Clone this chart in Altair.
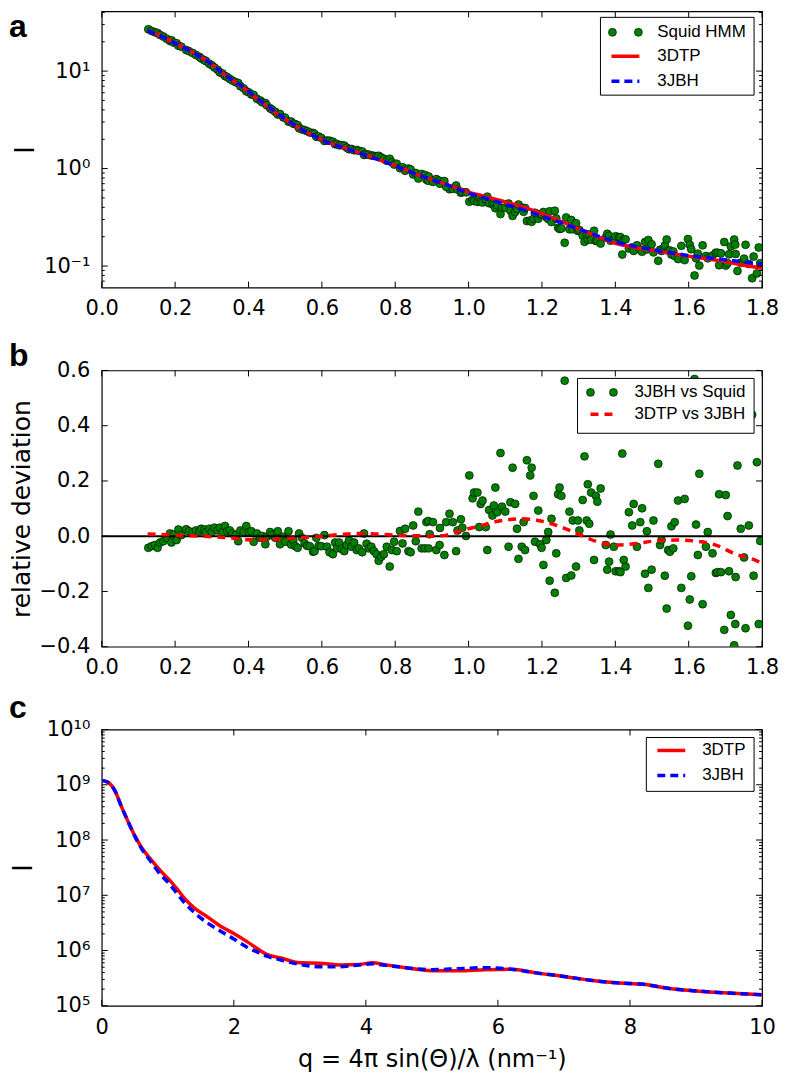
import altair as alt
import pandas as pd

W, H = 662, 277

# ---------------- panel a / b : observed data (q, relative deviation, intensity) ----------------
obs_q = [
    0.127, 0.136, 0.145, 0.152, 0.159, 0.168, 0.177, 0.186, 0.190, 0.196,
    0.204, 0.209, 0.217, 0.230, 0.238, 0.248, 0.257, 0.266, 0.271, 0.280,
    0.284, 0.293, 0.300, 0.307, 0.316, 0.322, 0.329, 0.336, 0.342, 0.349,
    0.356, 0.365, 0.372, 0.378, 0.387, 0.394, 0.401, 0.408, 0.414, 0.423,
    0.432, 0.437, 0.446, 0.450, 0.459, 0.464, 0.473, 0.480, 0.486, 0.495,
    0.500, 0.509, 0.516, 0.522, 0.528, 0.534, 0.538, 0.546, 0.553, 0.560,
    0.567, 0.576, 0.580, 0.585, 0.591, 0.598, 0.607, 0.614, 0.621, 0.630,
    0.636, 0.641, 0.647, 0.654, 0.661, 0.668, 0.674, 0.681, 0.688, 0.695,
    0.701, 0.710, 0.715, 0.722, 0.728, 0.735, 0.742, 0.749, 0.755, 0.762,
    0.769, 0.777, 0.785, 0.791, 0.797, 0.804, 0.813, 0.820, 0.827, 0.836,
    0.842, 0.849, 0.856, 0.863, 0.872, 0.881, 0.885, 0.894, 0.890, 0.903,
    0.891, 0.912, 0.921, 0.922, 0.934, 0.948, 0.939, 0.957, 0.966, 0.970,
    0.979, 0.983, 0.993, 1.002, 1.011, 1.015, 1.024, 1.029, 1.033, 1.038,
    1.047, 1.051, 1.056, 1.065, 1.069, 1.073, 1.078, 1.087, 1.091, 1.100,
    1.109, 1.114, 1.120, 1.127, 1.132, 1.136, 1.145, 1.150, 1.154, 1.159,
    1.168, 1.172, 1.177, 1.181, 1.190, 1.195, 1.199, 1.204, 1.212, 1.217,
    1.221, 1.226, 1.235, 1.239, 1.244, 1.248, 1.253, 1.262, 1.266, 1.275,
    1.280, 1.284, 1.293, 1.298, 1.302, 1.311, 1.316, 1.322, 1.325, 1.329,
    1.334, 1.342, 1.347, 1.351, 1.360, 1.374, 1.378, 1.383, 1.387, 1.396,
    1.401, 1.410, 1.414, 1.419, 1.423, 1.428, 1.437, 1.446, 1.450, 1.459,
    1.468, 1.473, 1.481, 1.486, 1.490, 1.499, 1.504, 1.517, 1.522, 1.526,
    1.535, 1.540, 1.544, 1.549, 1.553, 1.558, 1.562, 1.571, 1.580, 1.589,
    1.598, 1.603, 1.607, 1.616, 1.620, 1.625, 1.629, 1.638, 1.647, 1.652,
    1.665, 1.674, 1.679, 1.683, 1.688, 1.697, 1.701, 1.706, 1.710, 1.715,
    1.724, 1.727, 1.728, 1.733, 1.742, 1.751, 1.755, 1.764, 1.773, 1.777,
    1.786, 1.791, 1.795,
]

obs_dev = [
    -0.042, -0.036, -0.032, -0.042, -0.023, -0.018, -0.006, 0.010, -0.023, 0.006,
    -0.014, 0.024, 0.004, 0.025, 0.018, 0.015, 0.021, 0.018, 0.027, 0.024,
    0.015, 0.027, 0.015, 0.031, 0.021, 0.031, 0.015, 0.037, 0.018, 0.021,
    0.010, 0.004, -0.018, 0.021, 0.015, 0.037, 0.015, 0.018, -0.020, 0.010,
    -0.006, 0.001, -0.029, -0.002, 0.015, 0.004, -0.006, 0.018, -0.029, -0.002,
    -0.020, 0.018, -0.030, -0.014, -0.036, -0.042, 0.010, -0.006, -0.026, -0.035,
    -0.036, -0.056, -0.054, -0.006, -0.035, -0.036, 0.004, -0.038, -0.058, -0.065,
    -0.023, -0.044, -0.023, -0.046, -0.054, -0.032, -0.015, -0.038, -0.023, -0.050,
    -0.044, -0.058, 0.010, -0.027, -0.044, -0.038, -0.054, -0.065, -0.089, -0.074,
    -0.065, -0.038, -0.110, -0.050, -0.020, -0.054, 0.019, -0.026, 0.027, -0.054,
    -0.058, 0.039, -0.018, 0.089, -0.044, -0.044, 0.051, 0.007, 0.055, 0.051,
    -0.044, -0.050, -0.032, 0.030, -0.068, 0.081, 0.051, 0.051, -0.054, 0.021,
    0.061, 0.031, 0.001, 0.220, 0.137, 0.158, 0.158, 0.033, 0.117, 0.129,
    0.033, -0.050, 0.095, 0.075, 0.111, 0.176, 0.087, 0.301, 0.107, 0.089,
    -0.038, 0.123, 0.248, 0.117, 0.027, -0.082, -0.038, 0.051, -0.050, 0.275,
    0.220, 0.248, 0.146, -0.020, 0.093, -0.029, -0.042, -0.104, -0.014, 0.015,
    -0.161, 0.063, -0.205, -0.062, 0.152, 0.176, 0.146, 0.563, -0.151, 0.089,
    -0.142, 0.057, -0.110, 0.057, 0.021, 0.131, 0.289, 0.057, 0.188, 0.045,
    0.158, -0.086, 0.146, 0.125, 0.173, -0.032, -0.121, -0.092, 0.006, -0.038,
    -0.127, -0.127, -0.130, 0.299, -0.086, -0.110, 0.087, 0.039, 0.117, -0.038,
    0.051, 0.101, -0.136, 0.018, -0.187, -0.121, 0.057, 0.262, -0.032, -0.014,
    -0.143, -0.262, -0.050, -0.056, 0.036, -0.044, 0.051, 0.129, -0.187, 0.135,
    -0.324, -0.229, -0.145, 0.569, 0.042, -0.068, 0.226, -0.246, -0.038, 0.015,
    -0.062, -0.133, -0.130, 0.152, -0.130, -0.339, 0.149, 0.073, -0.127, -0.285,
    -0.395, -0.318, -0.148, 0.256, 0.027, -0.077, -0.333, 0.039, 0.440, -0.143,
    0.268, -0.318, -0.017,
]

obs_I = [
    26.9, 25.8, 25.0, 24.6, 23.5, 22.6, 21.5, 20.4, 20.7, 19.6,
    19.3, 18.2, 17.8, 16.5, 16.0, 15.3, 14.6, 14.0, 13.5, 12.9,
    12.7, 11.9, 11.5, 10.9, 10.3, 9.7, 9.45, 8.9, 8.7, 8.3,
    8.0, 7.7, 7.55, 7.0, 6.65, 6.2, 6.05, 5.75, 5.7, 5.2,
    5.0, 4.8, 4.7, 4.45, 4.15, 4.03, 3.82, 3.58, 3.63, 3.35,
    3.32, 3.03, 3.04, 2.89, 2.85, 2.79, 2.59, 2.52, 2.48, 2.42,
    2.35, 2.32, 2.27, 2.12, 2.13, 2.07, 1.92, 1.94, 1.93, 1.89,
    1.78, 1.79, 1.73, 1.74, 1.72, 1.64, 1.58, 1.59, 1.54, 1.55,
    1.52, 1.50, 1.38, 1.40, 1.39, 1.36, 1.35, 1.34, 1.35, 1.30,
    1.26, 1.20, 1.26, 1.16, 1.10, 1.12, 1.01, 1.03, 0.95, 1.00,
    0.98, 0.87, 0.90, 0.79, 0.88, 0.86, 0.77, 0.78, 0.75, 0.73,
    0.83, 0.78, 0.75, 0.70, 0.745, 0.615, 0.65, 0.62, 0.67, 0.61,
    0.565, 0.575, 0.57, 0.457, 0.48, 0.466, 0.455, 0.503, 0.46, 0.449,
    0.479, 0.515, 0.44, 0.438, 0.42, 0.392, 0.419, 0.341, 0.397, 0.395,
    0.437, 0.37, 0.327, 0.358, 0.386, 0.427, 0.398, 0.36, 0.394, 0.289,
    0.293, 0.284, 0.305, 0.352, 0.306, 0.34, 0.34, 0.358, 0.317, 0.304,
    0.364, 0.283, 0.369, 0.308, 0.247, 0.24, 0.243, 0.173, 0.315, 0.238,
    0.297, 0.238, 0.275, 0.229, 0.234, 0.205, 0.177, 0.212, 0.187, 0.21,
    0.186, 0.23, 0.181, 0.181, 0.17, 0.196, 0.214, 0.204, 0.182, 0.185,
    0.202, 0.198, 0.198, 0.131, 0.185, 0.188, 0.151, 0.155, 0.143, 0.163,
    0.147, 0.14, 0.176, 0.148, 0.185, 0.167, 0.138, 0.113, 0.147, 0.143,
    0.162, 0.187, 0.144, 0.144, 0.131, 0.141, 0.127, 0.118, 0.161, 0.115,
    0.189, 0.165, 0.149, 0.080, 0.12, 0.134, 0.101, 0.163, 0.127, 0.12,
    0.128, 0.137, 0.137, 0.102, 0.135, 0.176, 0.101, 0.107, 0.132, 0.159,
    0.187, 0.166, 0.133, 0.089, 0.108, 0.119, 0.165, 0.105, 0.075, 0.125,
    0.084, 0.155, 0.107,
]

# ---------------- panel a : model curves ----------------
model_q = [0.125, 0.15, 0.175, 0.2, 0.225, 0.25, 0.275, 0.3, 0.325, 0.35,
           0.375, 0.4, 0.425, 0.45, 0.475, 0.5, 0.525, 0.55, 0.575, 0.6,
           0.625, 0.65, 0.7, 0.75, 0.8, 0.85, 0.9, 0.95, 1.0, 1.05,
           1.1, 1.15, 1.2, 1.25, 1.3, 1.35, 1.4, 1.45, 1.5, 1.55,
           1.6, 1.65, 1.7, 1.75, 1.8]
model_3jbh = [26.0, 23.8, 21.6, 19.3, 17.3, 15.4, 13.6, 11.7, 9.8, 8.4,
              7.3, 6.2, 5.2, 4.45, 3.75, 3.25, 2.8, 2.45, 2.2, 1.98,
              1.8, 1.68, 1.45, 1.25, 1.07, 0.9, 0.77, 0.66, 0.56, 0.49,
              0.43, 0.378, 0.325, 0.28, 0.24, 0.205, 0.177, 0.16, 0.147, 0.137,
              0.128, 0.122, 0.116, 0.11, 0.105]
model_3dtp = [26.2, 23.9, 21.7, 19.4, 17.3, 15.4, 13.6, 11.7, 9.8, 8.35,
              7.25, 6.12, 5.14, 4.4, 3.72, 3.22, 2.78, 2.44, 2.2, 1.98,
              1.81, 1.69, 1.46, 1.26, 1.075, 0.9, 0.77, 0.665, 0.572, 0.51,
              0.455, 0.402, 0.344, 0.289, 0.241, 0.201, 0.171, 0.156, 0.145, 0.135,
              0.126, 0.119, 0.111, 0.102, 0.095]

# ---------------- panel b : 3DTP vs 3JBH ----------------
cmp_q = [0.125, 0.2, 0.3, 0.35, 0.4, 0.45, 0.5, 0.55, 0.6, 0.65,
         0.7, 0.75, 0.8, 0.85, 0.9, 0.94, 0.98, 1.03, 1.08, 1.145,
         1.19, 1.226, 1.27, 1.306, 1.35, 1.405, 1.46, 1.51, 1.567, 1.62,
         1.674, 1.728, 1.78, 1.8]
cmp_dev = [0.008, 0.004, -0.002, -0.006, -0.013, -0.012, -0.009, -0.005, 0.0, 0.006,
           0.01, 0.008, 0.004, 0.002, 0.0, 0.004, 0.02, 0.037, 0.054, 0.063,
           0.057, 0.045, 0.024, 0.004, -0.02, -0.032, -0.026, -0.017, -0.014, -0.018,
           -0.032, -0.065, -0.086, -0.098]

# ---------------- panel c : wide-range model curves ----------------
wide_q = [0.0, 0.1, 0.2, 0.3, 0.4, 0.5, 0.6, 0.75, 0.9, 1.0,
          1.13, 1.25, 1.4, 1.6, 1.8, 2.0, 2.2, 2.4, 2.5, 2.7,
          3.0, 3.3, 3.6, 3.9, 4.1, 4.3, 4.6, 5.0, 5.4, 5.8,
          6.2, 6.6, 7.0, 7.4, 7.8, 8.2, 8.6, 9.0, 9.5, 10.0]
wide_3dtp = [1.20e9, 1.10e9, 7.76e8, 3.98e8, 2.14e8, 1.20e8, 7.41e7, 4.37e7, 2.69e7, 2.04e7,
             1.35e7, 8.9e6, 5.9e6, 4.07e6, 2.75e6, 2.04e6, 1.45e6, 1.0e6, 8.5e5, 7.4e5,
             6.0e5, 5.9e5, 5.5e5, 5.6e5, 6.0e5, 5.5e5, 4.9e5, 4.3e5, 4.3e5, 4.5e5,
             4.6e5, 3.9e5, 3.4e5, 2.9e5, 2.6e5, 2.45e5, 2.05e5, 1.86e5, 1.7e5, 1.58e5]
wide_3jbh = [1.20e9, 1.10e9, 7.76e8, 3.98e8, 2.14e8, 1.17e8, 7.08e7, 3.98e7, 2.29e7, 1.74e7,
             1.12e7, 7.4e6, 4.9e6, 3.16e6, 2.24e6, 1.62e6, 1.15e6, 8.9e5, 7.9e5, 6.8e5,
             5.6e5, 5.1e5, 5.1e5, 5.5e5, 5.75e5, 5.4e5, 4.9e5, 4.5e5, 4.7e5, 4.9e5,
             4.6e5, 3.9e5, 3.4e5, 2.9e5, 2.6e5, 2.45e5, 2.05e5, 1.86e5, 1.7e5, 1.58e5]

# ---------------- ticks ----------------
xticks_ab = [0.0, 0.2, 0.4, 0.6, 0.8, 1.0, 1.2, 1.4, 1.6, 1.8]
xticks_c = [0, 2, 4, 6, 8, 10]
yticks_a = [0.1, 1, 10]
yminor_a = [0.07, 0.08, 0.09, 0.2, 0.3, 0.4, 0.5, 0.6, 0.7, 0.8, 0.9,
            2, 3, 4, 5, 6, 7, 8, 9, 20, 30, 40]
yticks_b = [-0.4, -0.2, 0.0, 0.2, 0.4, 0.6]
yticks_c = [1e5, 1e6, 1e7, 1e8, 1e9, 1e10]
yminor_c = [m * 10 ** e for e in range(5, 10) for m in range(2, 10)]

GREEN = "#008000"
LBL_FONT = "DejaVu Sans"
LEG_FONT = "Liberation Sans"
LEFT = -93

one = pd.DataFrame({"k": [0]})


def tick_layers(xfield, xscale, xvals, yfield, yscale, yvals, yminor=None):
    layers = []
    dx = pd.DataFrame({xfield: xvals})
    dy = pd.DataFrame({yfield: yvals})
    for y0, y1 in ((0, 6), (H, H - 6)):
        layers.append(alt.Chart(dx).mark_rule(color="black", strokeWidth=1).encode(
            x=alt.X(f"{xfield}:Q", scale=xscale), y=alt.value(y0), y2=alt.value(y1)))
    for x0, x1 in ((0, 6), (W, W - 6)):
        layers.append(alt.Chart(dy).mark_rule(color="black", strokeWidth=1).encode(
            y=alt.Y(f"{yfield}:Q", scale=yscale), x=alt.value(x0), x2=alt.value(x1)))
    if yminor is not None:
        dm = pd.DataFrame({yfield: yminor})
        for x0, x1 in ((0, 3), (W, W - 3)):
            layers.append(alt.Chart(dm).mark_rule(color="black", strokeWidth=1).encode(
                y=alt.Y(f"{yfield}:Q", scale=yscale), x=alt.value(x0), x2=alt.value(x1)))
    return layers


def legend_layers(box, entries):
    x1, x2, y1, y2 = box
    layers = [alt.Chart(one).mark_rect(fill="white", stroke="black", strokeWidth=1).encode(
        x=alt.value(x1), x2=alt.value(x2), y=alt.value(y1), y2=alt.value(y2))]
    for kind, color, dash, label, y, xa, xb, xt in entries:
        if kind == "dots":
            for xx in (xa, xb):
                layers.append(alt.Chart(one).mark_circle(
                    size=64, fill=GREEN, stroke="black", strokeWidth=0.6, opacity=1).encode(
                    x=alt.value(xx), y=alt.value(y)))
        else:
            kw = dict(color=color, strokeWidth=3.5)
            if dash:
                kw["strokeDash"] = dash
            layers.append(alt.Chart(one).mark_rule(**kw).encode(
                x=alt.value(xa), x2=alt.value(xb), y=alt.value(y)))
        layers.append(alt.Chart(one).mark_text(
            text=label, align="left", baseline="middle", font=LEG_FONT, fontSize=17,
            color="black").encode(x=alt.value(xt), y=alt.value(y)))
    return layers


def letter(ch, y, size=32):
    return alt.Chart(one).mark_text(
        text=ch, align="left", baseline="alphabetic", font=LEG_FONT, fontSize=size,
        fontWeight="bold", color="black").encode(x=alt.value(LEFT), y=alt.value(y))


# ================= panel a =================
xs_ab = alt.Scale(domain=[0, 1.8], nice=False, zero=False)
ys_a = alt.Scale(type="log", domain=[0.06, 41], nice=False)

obs_df = pd.DataFrame({"q": obs_q, "I": obs_I, "dev": obs_dev})
model_df = pd.DataFrame({"q": model_q, "I3DTP": model_3dtp, "I3JBH": model_3jbh})

xaxis_ab = alt.Axis(values=xticks_ab, format=".1f", title=None, labelPadding=10,
                    labelFlush=False)
yaxis_a = alt.Axis(values=yticks_a, title="I", titleFontSize=27, labelFlush=False,
                   labelExpr="datum.value < 0.5 ? '10⁻¹' : (datum.value < 5 ? '10⁰' : '10¹')",
                   titleX=-76, titleY=H / 2, titleBaseline="middle", titleAngle=270,
                   labelPadding=12)

a_pts = alt.Chart(obs_df).mark_circle(
    size=64, fill=GREEN, stroke="black", strokeWidth=0.6, opacity=1, clip=True).encode(
    x=alt.X("q:Q", scale=xs_ab, axis=xaxis_ab),
    y=alt.Y("I:Q", scale=ys_a, axis=yaxis_a))
a_red = alt.Chart(model_df).mark_line(color="red", strokeWidth=3.5, clip=True,
                                      interpolate="monotone").encode(
    x=alt.X("q:Q", scale=xs_ab), y=alt.Y("I3DTP:Q", scale=ys_a))
a_blue = alt.Chart(model_df).mark_line(color="blue", strokeWidth=3.5, strokeDash=[8, 5],
                                       clip=True, interpolate="monotone").encode(
    x=alt.X("q:Q", scale=xs_ab), y=alt.Y("I3JBH:Q", scale=ys_a))

panel_a = alt.layer(
    a_pts, a_red, a_blue,
    *tick_layers("q", xs_ab, xticks_ab, "I", ys_a, yticks_a, yminor_a),
    *legend_layers((500, 654, 6, 84), [
        ("dots", GREEN, None, "Squid HMM", 21, 512, 538, 557),
        ("line", "red", None, "3DTP", 45, 511, 539, 557),
        ("line", "blue", [8, 5], "3JBH", 70, 511, 539, 557),
    ]),
    letter("a", 25.5),
).properties(width=W, height=H)

# ================= panel b =================
ys_b = alt.Scale(domain=[-0.4, 0.6], nice=False, zero=False)
cmp_df = pd.DataFrame({"q": cmp_q, "dev": cmp_dev})
yaxis_b = alt.Axis(values=yticks_b, format=".1f", title="relative deviation",
                   labelFlush=False,
                   titleX=-80, titleY=H / 2, titleBaseline="middle", titleAngle=270,
                   labelPadding=12)

b_pts = alt.Chart(obs_df).mark_circle(
    size=64, fill=GREEN, stroke="black", strokeWidth=0.6, opacity=1, clip=True).encode(
    x=alt.X("q:Q", scale=xs_ab, axis=xaxis_ab),
    y=alt.Y("dev:Q", scale=ys_b, axis=yaxis_b))
b_zero = alt.Chart(pd.DataFrame({"dev": [0.0]})).mark_rule(color="black", strokeWidth=2).encode(
    y=alt.Y("dev:Q", scale=ys_b))
b_red = alt.Chart(cmp_df).mark_line(color="red", strokeWidth=3.5, strokeDash=[8, 6],
                                    clip=True, interpolate="monotone").encode(
    x=alt.X("q:Q", scale=xs_ab), y=alt.Y("dev:Q", scale=ys_b))

panel_b = alt.layer(
    b_pts, b_zero, b_red,
    *tick_layers("q", xs_ab, xticks_ab, "dev", ys_b, yticks_b),
    *legend_layers((477, 654, 8, 63), [
        ("dots", GREEN, None, "3JBH vs Squid", 22, 490, 513, 534),
        ("line", "red", [8, 6], "3DTP vs 3JBH", 44, 490, 514, 534),
    ]),
    letter("b", -4),
).properties(width=W, height=H)

# ================= panel c =================
xs_c = alt.Scale(domain=[0, 10], nice=False, zero=False)
ys_c = alt.Scale(type="log", domain=[1e5, 1e10], nice=False)
wide_df = pd.DataFrame({"q": wide_q, "I3DTP": wide_3dtp, "I3JBH": wide_3jbh})

xaxis_c = alt.Axis(values=xticks_c, format="d", title="q = 4π sin(Θ)/λ (nm⁻¹)",
                   labelFlush=False,
                   titleFontSize=24, titleX=W / 2, titleY=54, titleBaseline="middle",
                   labelPadding=11)
yaxis_c = alt.Axis(values=yticks_c, title="I", titleFontSize=27, labelFlush=False,
                   labelExpr=("datum.value < 500000 ? '10⁵' : datum.value < 5000000 ? '10⁶' : "
                              "datum.value < 50000000 ? '10⁷' : datum.value < 500000000 ? '10⁸' : "
                              "datum.value < 5000000000 ? '10⁹' : '10¹⁰'"),
                   titleX=-78, titleY=H / 2, titleBaseline="middle", titleAngle=270,
                   labelPadding=12)

c_red = alt.Chart(wide_df).mark_line(color="red", strokeWidth=3.5, clip=True,
                                     interpolate="monotone").encode(
    x=alt.X("q:Q", scale=xs_c, axis=xaxis_c),
    y=alt.Y("I3DTP:Q", scale=ys_c, axis=yaxis_c))
c_blue = alt.Chart(wide_df).mark_line(color="blue", strokeWidth=3.5, strokeDash=[8, 5],
                                      clip=True, interpolate="monotone").encode(
    x=alt.X("q:Q", scale=xs_c), y=alt.Y("I3JBH:Q", scale=ys_c))

panel_c = alt.layer(
    c_red, c_blue,
    *tick_layers("q", xs_c, xticks_c, "I3DTP", ys_c, yticks_c, yminor_c),
    *legend_layers((546, 654, 8, 62), [
        ("line", "red", None, "3DTP", 21, 557, 585, 602),
        ("line", "blue", [8, 5], "3JBH", 46, 557, 585, 602),
    ]),
    letter("c", -12),
).properties(width=W, height=H)

chart = alt.vconcat(panel_a, panel_b, panel_c, spacing=83, bounds="flush").properties(
    padding=0
).configure_view(
    stroke="black", strokeWidth=1.2
).configure_axis(
    grid=False, domain=False, ticks=False,
    labelFont=LBL_FONT, labelFontSize=21, labelColor="black",
    titleFont=LBL_FONT, titleFontSize=25, titleColor="black", titleFontWeight="normal",
)

chart.save("out.html", embed_options={"renderer": "svg", "actions": False})
